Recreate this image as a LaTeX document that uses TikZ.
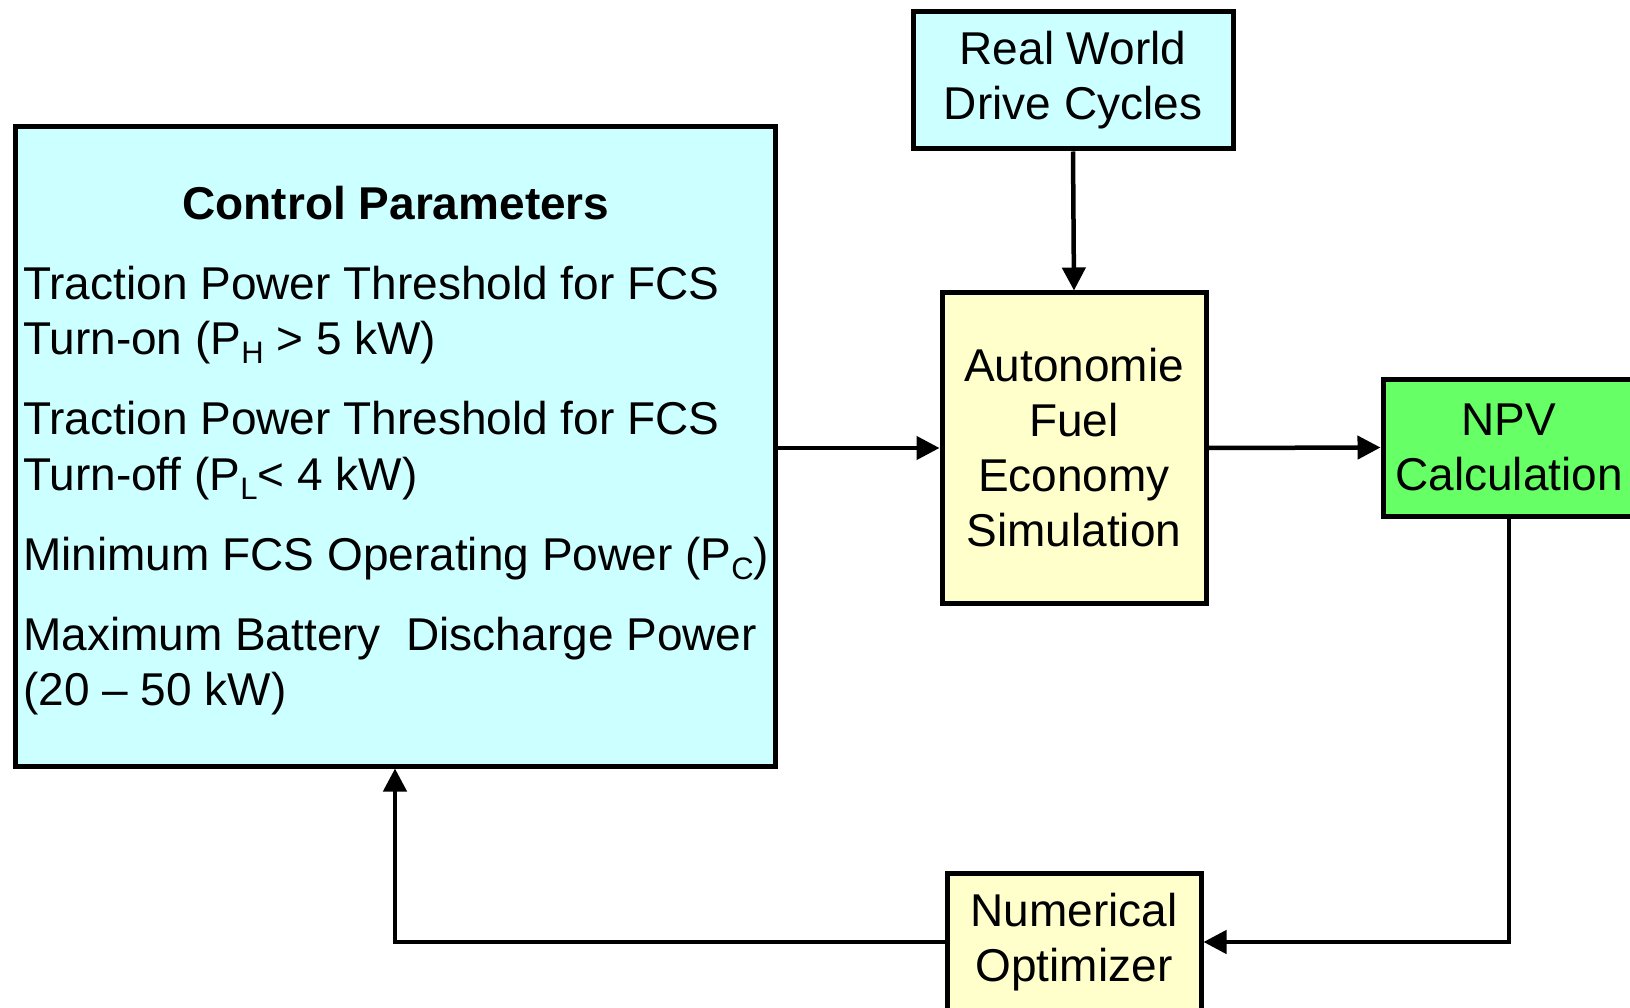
\documentclass[tikz,border=0pt]{standalone}
\usepackage{fontspec}
\setmainfont{Liberation Sans}
\usetikzlibrary{arrows.meta}
\definecolor{paleCyan}{HTML}{CCFFFF}
\definecolor{paleYellow}{HTML}{FFFFCC}
\definecolor{brightGreen}{HTML}{66FF66}
% lowered, reduced-size subscript letter
\newcommand{\lowsub}[1]{\raisebox{-9pt}{\fontsize{31}{31}\selectfont #1}}
\begin{document}
\begin{tikzpicture}[x=1pt,y=-1pt,
  box/.style={draw=black, line width=5pt, rectangle, inner sep=0pt, align=center,
              font=\fontsize{46}{55}\selectfont},
  item/.style={font=\fontsize{46}{55}\selectfont, anchor=base west, inner sep=0pt},
  link/.style={line width=4.5pt, -{Triangle[length=23pt,width=23pt]}},
]
\useasboundingbox (0,0) rectangle (1630,1008);
\clip (0,0) rectangle (1630,1008);

% blocks
\node[box, fill=paleCyan, minimum width=760pt, minimum height=639pt] (ctrl) at (395,446.5) {};
\node[box, fill=paleCyan, minimum width=320pt, minimum height=137pt] (rw) at (1073,80.5) {Real World\\Drive Cycles};
\node[box, fill=paleYellow, minimum width=264pt, minimum height=310pt] (auto) at (1074,448) {Autonomie\\Fuel\\Economy\\Simulation};
\node[box, fill=brightGreen, minimum width=252pt, minimum height=137pt] (npv) at (1509,447.5) {NPV\\Calculation};
\node[box, fill=paleYellow, minimum width=254pt, minimum height=138pt] (opt) at (1074,942) {Numerical\\Optimizer};

% parameter list
\node[font=\bfseries\fontsize{46}{55}\selectfont, anchor=base, inner sep=0pt] (title) at (396,220) {Control Parameters};
\node[item] (p1a) at (23,299) {Traction Power Threshold for FCS};
\node[item] (p1b) at (23,354) {Turn-on (P\lowsub{H} > 5 kW)};
\node[item] (p2a) at (23,434) {Traction Power Threshold for FCS};
\node[item] (p2b) at (23,490) {Turn-off (P\lowsub{L}< 4 kW)};
\node[item] (p3) at (23,570) {Minimum FCS Operating Power (P\lowsub{C})};
\node[item] (p4a) at (23,650) {Maximum Battery\ \ Discharge Power};
\node[item] (p4b) at (23,705) {(20 – 50 kW)};

% connectors
\draw[link] (ctrl.east |- auto.west) -- (auto.west);
\draw[link] (rw.south) -- (auto.north);
\draw[link] (auto.east) -- (npv.west);
\draw[link] (npv.south) |- (opt.east);
\draw[link] (opt.west) -| (ctrl.south);
\end{tikzpicture}
\end{document}
